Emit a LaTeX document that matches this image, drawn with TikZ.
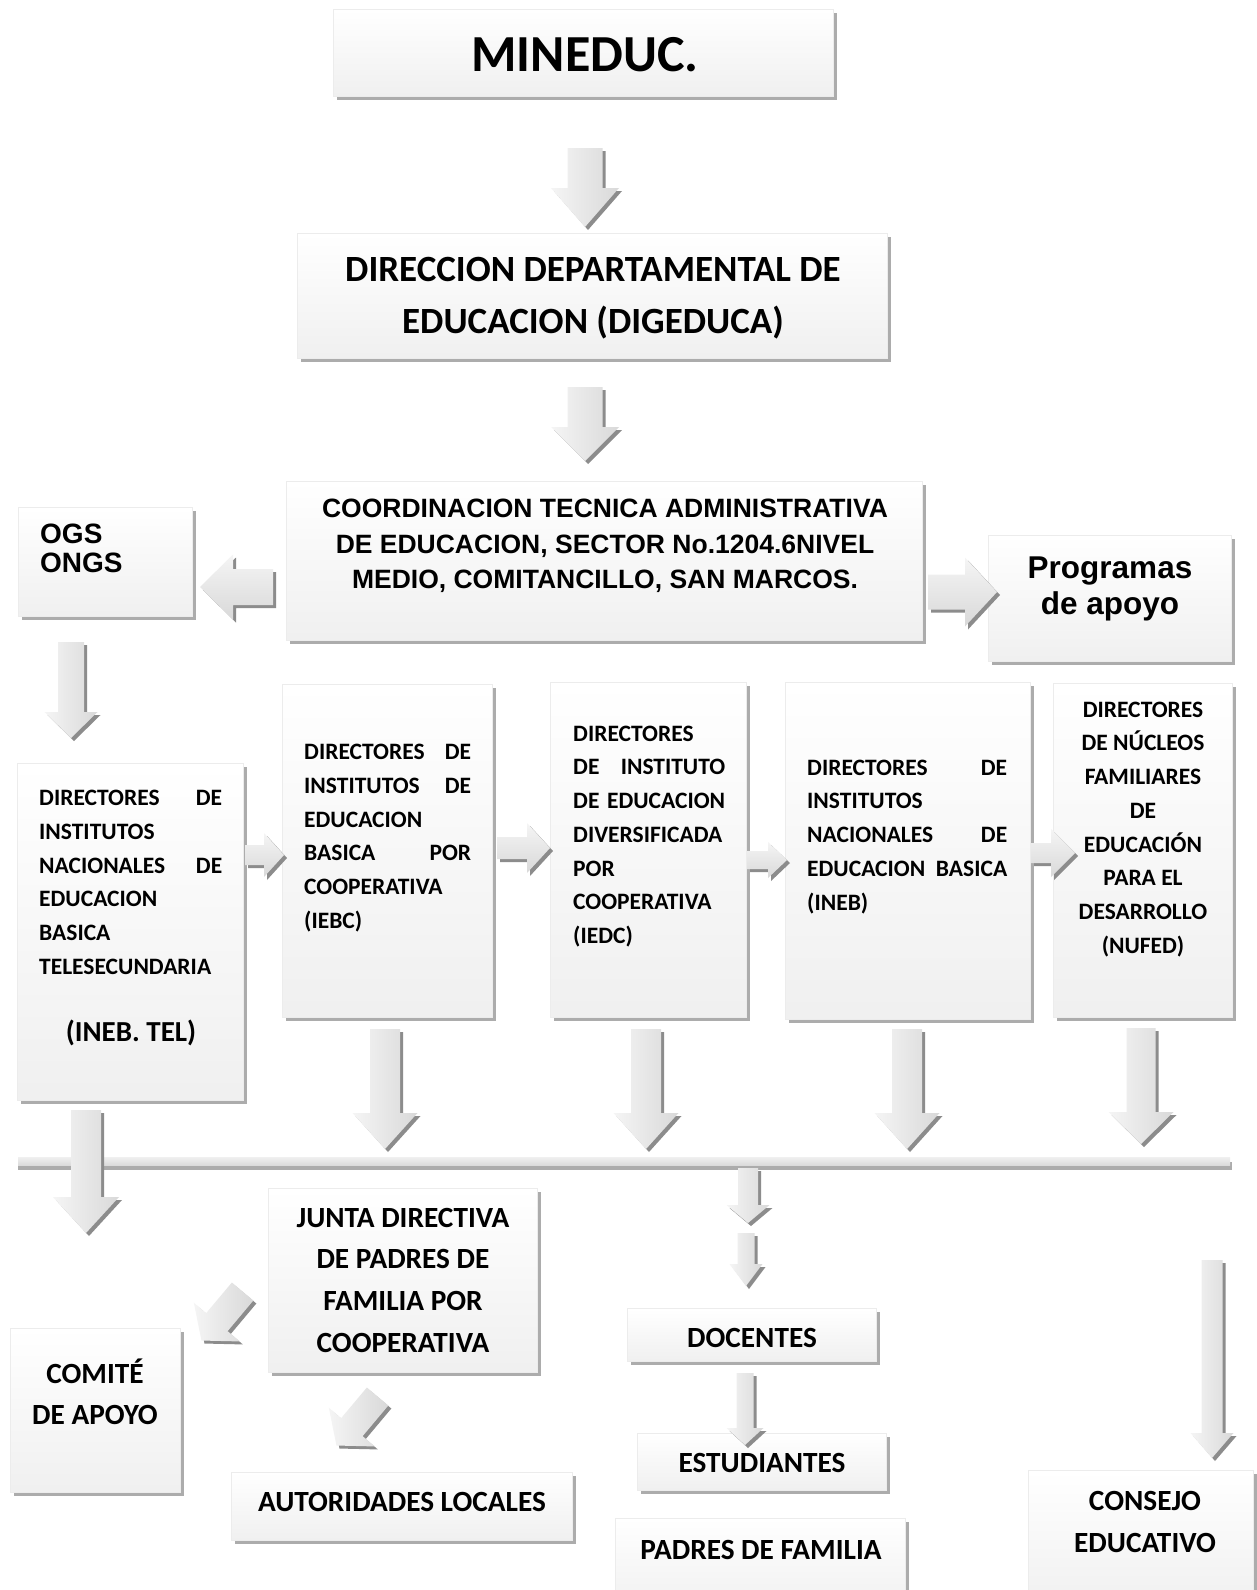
\documentclass[tikz,border=0pt]{standalone}
\usepackage{fontspec}
\setmainfont{Carlito}
\newfontfamily\arl{Liberation Sans}
\usetikzlibrary{shadows}
\newcommand{\fs}[2]{\bfseries\fontsize{#1}{#2}\selectfont}
\newcommand{\jl}[3]{\makebox[#1]{#2\hfill #3}}
% block arrow: x, y (start), rotation, length, shaft half width, head half width, head length, shading style
\newcommand{\barrow}[8]{%
  \fill[arrowshadow, shift={(#1+3,#2+3)}, rotate=#3]
    (0,-#5) -- (#4-#7,-#5) -- (#4-#7,-#6) -- (#4,0) -- (#4-#7,#6) -- (#4-#7,#5) -- (0,#5) -- cycle;
  \shade[#8, shift={(#1,#2)}, rotate=#3]
    (0,-#5) -- (#4-#7,-#5) -- (#4-#7,-#6) -- (#4,0) -- (#4-#7,#6) -- (#4-#7,#5) -- (0,#5) -- cycle;
}
\begin{document}
\begin{tikzpicture}[x=1pt,y=-1pt,
  box/.style={draw=gray!15, line width=1.2pt, top color=white, bottom color=gray!12,
    inner sep=0pt, anchor=north west,
    drop shadow={shadow xshift=3.5pt, shadow yshift=-3.5pt, fill=gray!65, opacity=1}},
  tx/.style={inner sep=0pt, text=black},
  arrowshadow/.style={fill=gray!90},
  vshade/.style={left color=gray!8, right color=gray!30},
  hshade/.style={top color=gray!8, bottom color=gray!30}]
\useasboundingbox (0,0) rectangle (1256,1590);
\fill[white] (0,0) rectangle (1256,1590);

% ---------- boxes ----------
\node[box, minimum width=500pt, minimum height=87pt] (mineduc) at (333,9) {};
\node[box, minimum width=590pt, minimum height=125pt] (dige) at (297,233) {};
\node[box, minimum width=636pt, minimum height=159pt] (coord) at (286,481) {};
\node[box, minimum width=174pt, minimum height=109pt] (ogs) at (18,507) {};
\node[box, minimum width=243pt, minimum height=126pt] (prog) at (988,535) {};
\node[box, minimum width=226pt, minimum height=337pt] (boxA) at (17,763) {};
\node[box, minimum width=210pt, minimum height=333pt] (boxB) at (282,684) {};
\node[box, minimum width=196pt, minimum height=335pt] (boxC) at (550,682) {};
\node[box, minimum width=245pt, minimum height=337pt] (boxD) at (785,682) {};
\node[box, minimum width=179pt, minimum height=334pt] (boxE) at (1053,683) {};
\node[box, minimum width=269pt, minimum height=184pt] (junta) at (268,1188) {};
\node[box, minimum width=170pt, minimum height=164pt] (comite) at (10,1328) {};
\node[box, minimum width=341pt, minimum height=68pt] (autor) at (231,1472) {};
\node[box, minimum width=249pt, minimum height=53pt] (docentes) at (627,1308) {};
\node[box, minimum width=249pt, minimum height=57pt] (estud) at (637,1433) {};
\node[box, minimum width=290pt, minimum height=95pt] (padres) at (615,1518) {};
\node[box, minimum width=225pt, minimum height=140pt] (consejo) at (1028,1470) {};

% ---------- texts ----------
\node[tx, anchor=base, font={\fs{52}{60}}] (mineduc-t) at (585,71.5) {MINEDUC.};
\node[tx, anchor=north, align=center, font={\fs{37}{52}}] (dige-t) at (593,244)
  {\rule{0pt}{1em}DIRECCION DEPARTAMENTAL DE\\EDUCACION (DIGEDUCA)};
\node[tx, anchor=north, align=center, font={\arl\fs{26.5}{35.5}}] (coord-t) at (605,491)
  {\rule{0pt}{1em}COORDINACION TECNICA ADMINISTRATIVA\\DE EDUCACION, SECTOR No.1204.6NIVEL\\MEDIO, COMITANCILLO, SAN MARCOS.};
\node[tx, anchor=north west, align=left, font={\arl\fs{28}{29}}] (ogs-t) at (40,515)
  {\rule{0pt}{1em}OGS\\ONGS};
\node[tx, anchor=north, align=center, font={\arl\fs{31.5}{36.5}}] (prog-t) at (1110,546.5)
  {\rule{0pt}{1em}Programas\\de apoyo};

\node[tx, anchor=north west, text width=183pt, align=left, font={\fs{23.5}{33.7}}] (boxA-t) at (39,782)
  {\rule{0pt}{1em}\jl{183pt}{DIRECTORES}{DE}\\INSTITUTOS\\\jl{183pt}{NACIONALES}{DE}\\EDUCACION\\BASICA\\TELESECUNDARIA};
\node[tx, anchor=base, font={\fs{29}{34}}] (boxA-t2) at (131,1041) {(INEB. TEL)};
\node[tx, anchor=north west, text width=167pt, align=left, font={\fs{23.5}{33.7}}] (boxB-t) at (304,736)
  {\rule{0pt}{1em}\jl{167pt}{DIRECTORES}{DE}\\\jl{167pt}{INSTITUTOS}{DE}\\EDUCACION\\\jl{167pt}{BASICA}{POR}\\COOPERATIVA\\(IEBC)};
\node[tx, anchor=north west, text width=152pt, align=left, font={\fs{23.5}{33.7}}] (boxC-t) at (573,717.5)
  {\rule{0pt}{1em}DIRECTORES\\\jl{152pt}{DE}{INSTITUTO}\\\jl{152pt}{DE}{EDUCACION}\\DIVERSIFICADA\\POR\\COOPERATIVA\\(IEDC)};
\node[tx, anchor=north west, text width=200pt, align=left, font={\fs{23.5}{33.7}}] (boxD-t) at (807,751.5)
  {\rule{0pt}{1em}\jl{200pt}{DIRECTORES}{DE}\\INSTITUTOS\\\jl{200pt}{NACIONALES}{DE}\\\jl{200pt}{EDUCACION}{BASICA}\\(INEB)};
\node[tx, anchor=north, align=center, font={\fs{23.5}{33.7}}] (boxE-t) at (1143,693.5)
  {\rule{0pt}{1em}DIRECTORES\\DE NÚCLEOS\\FAMILIARES\\DE\\EDUCACIÓN\\PARA EL\\DESARROLLO\\(NUFED)};

\node[tx, anchor=north, align=center, font={\fs{29.3}{41.7}}] (junta-t) at (403,1197.7)
  {\rule{0pt}{1em}JUNTA DIRECTIVA\\DE PADRES DE\\FAMILIA POR\\COOPERATIVA};
\node[tx, anchor=north, align=center, font={\fs{29.3}{41}}] (comite-t) at (95,1353.7)
  {\rule{0pt}{1em}COMITÉ\\DE APOYO};
\node[tx, anchor=base, font={\fs{29.3}{34}}] (autor-t) at (402,1511) {AUTORIDADES LOCALES};
\node[tx, anchor=base, font={\fs{29.3}{34}}] (docentes-t) at (752,1347) {DOCENTES};
\node[tx, anchor=base, font={\fs{29.3}{34}}] (estud-t) at (762,1472) {ESTUDIANTES};
\node[tx, anchor=base, font={\fs{29.3}{34}}] (padres-t) at (761,1559) {PADRES DE FAMILIA};
\node[tx, anchor=north, align=center, font={\fs{29.3}{42}}] (consejo-t) at (1145,1481)
  {\rule{0pt}{1em}CONSEJO\\EDUCATIVO};

% ---------- horizontal bar ----------
\fill[gray!65] (18,1162) rectangle (1232,1170);
\fill[top color=gray!12, bottom color=gray!28] (18,1157) rectangle (1230,1165);

% ---------- block arrows ----------
\barrow{585}{148}{-90}{79}{17.5}{34}{39}{vshade}
\barrow{585}{387}{-90}{74}{17.5}{34}{34}{vshade}
\barrow{273}{587}{180}{73}{18}{32.5}{33}{hshade}
\barrow{928}{592}{0}{69}{17.5}{34.5}{32}{hshade}
\barrow{71}{642}{-90}{96}{13}{26.5}{26}{vshade}
\barrow{245}{855}{0}{39}{10}{22}{20}{hshade}
\barrow{497}{848}{0}{53}{11}{25}{23}{hshade}
\barrow{747}{860}{0}{40}{9}{18}{19}{hshade}
\barrow{1031}{853}{0}{44}{10}{24}{24}{hshade}
\barrow{385}{1029}{-90}{120}{15}{32.5}{36}{vshade}
\barrow{646}{1029}{-90}{120}{15}{32.5}{36}{vshade}
\barrow{907}{1029}{-90}{120}{15}{32.5}{36}{vshade}
\barrow{1141}{1028}{-90}{116}{14.5}{32.5}{32}{vshade}
\barrow{86}{1110}{-90}{123}{15}{33}{36}{vshade}
\barrow{748}{1168}{-90}{55}{10}{21.5}{18}{vshade}
\barrow{746}{1233}{-90}{53}{8.5}{16.5}{22}{vshade}
\barrow{745}{1373}{-90}{72}{8.5}{18.5}{17}{vshade}
\barrow{1212}{1260}{-90}{198}{10.5}{21.5}{25}{vshade}
\barrow{242.6}{1291.5}{-130}{64}{14}{30}{24}{vshade}
\barrow{377.6}{1396.5}{-130}{64}{14}{30}{24}{vshade}
\end{tikzpicture}
\end{document}
